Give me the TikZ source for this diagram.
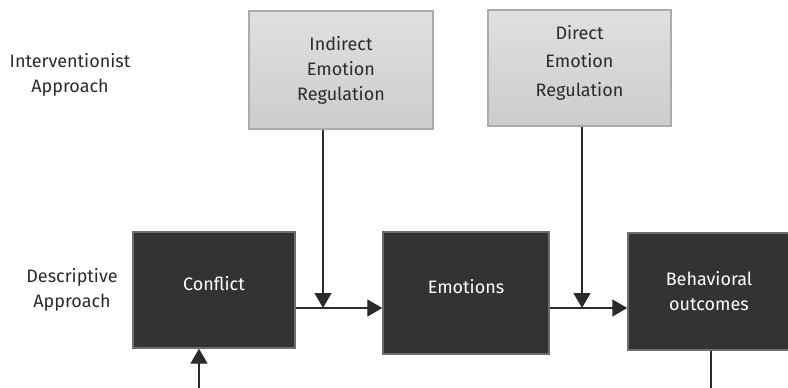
\documentclass[tikz,border=0pt]{standalone}
\usepackage{fontspec}
\setmainfont{Fira Sans}
\usetikzlibrary{arrows.meta}
\definecolor{ink}{HTML}{2B2A2C}
\definecolor{darkfill}{HTML}{343235}
\definecolor{darkedge}{HTML}{6E6D70}
\definecolor{lighttop}{HTML}{E0E0E2}
\definecolor{lightbot}{HTML}{CCCCCE}
\definecolor{lightedge}{HTML}{ABABAD}
\tikzset{
  every node/.style={font=\fontsize{18}{25}\selectfont, text=ink, align=center},
  regbox/.style={draw=lightedge, line width=1.2pt, top color=lighttop, bottom color=lightbot},
  stagebox/.style={draw=darkedge, line width=1.4pt, fill=darkfill, text=white},
  raised/.style={text height=13pt, text depth=12pt},
  link/.style={draw=ink, line width=1.3pt},
  tip/.style={-{Triangle[width=17pt,length=15pt]}}
}
\begin{document}
\begin{tikzpicture}[x=1pt,y=-1pt]
  \useasboundingbox (0,0) rectangle (788,388);

  % row labels
  \node (intv) at (70,75) {Interventionist\\Approach};
  \node (desc) at (72,290) {Descriptive\\Approach};

  % regulation boxes
  \node[regbox, minimum width=184pt, minimum height=118pt] (ind) at (341,70)
    {Indirect\\Emotion\\Regulation};
  \node[regbox, minimum width=183pt, minimum height=116pt] (dir) at (579.5,68)
    {\raisebox{1.5pt}[0pt][0pt]{\renewcommand\arraystretch{1.14}%
      \begin{tabular}{@{}c@{}}Direct\\Emotion\\Regulation\end{tabular}}};

  % process boxes
  \node[stagebox, raised, minimum width=162pt, minimum height=116pt] (con) at (214,290)
    {Conflict};
  \node[stagebox, raised, minimum width=166pt, minimum height=122pt] (emo) at (466,293)
    {Emotions};
  \node[stagebox, minimum width=162pt, minimum height=117pt] (beh) at (709,291.5)
    {Behavioral\\outcomes};

  % junctions on the main flow line and free ends
  \coordinate (j1) at (323,308);
  \coordinate (j2) at (582,308);
  \coordinate (inlet) at (199,390);
  \coordinate (outlet) at (711,390);

  % connectors
  \draw[link] (con.east |- j1) -- (j1);
  \draw[link, tip] (j1) -- (emo.west |- j1);
  \draw[link] (emo.east |- j2) -- (j2);
  \draw[link, tip] (j2) -- (beh.west |- j2);
  \draw[link, tip] (ind.south -| j1) -- (j1);
  \draw[link, tip] (dir.south -| j2) -- (j2);
  \draw[link, tip] (inlet) -- (con.south -| inlet);
  \draw[link] (beh.south -| outlet) -- (outlet);
\end{tikzpicture}
\end{document}
